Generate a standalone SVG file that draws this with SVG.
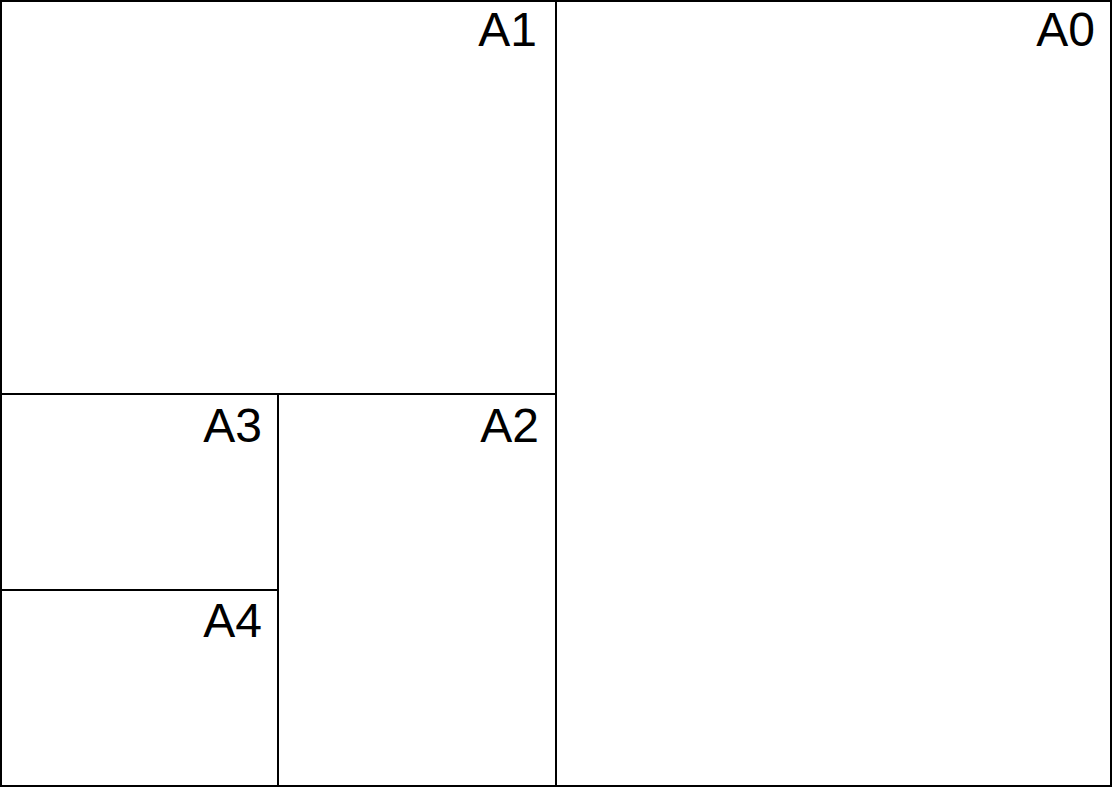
<svg xmlns="http://www.w3.org/2000/svg" width="1112" height="787" viewBox="0 0 1112 787">
<style>
.b{fill:#fff;stroke:#000;stroke-width:2}
.t{font-family:"Liberation Sans",Arial,sans-serif;font-size:48px;text-anchor:end;fill:#000}
</style>
<rect x="0" y="0" width="1112" height="787" fill="#fff"/>
<g id="A0"><rect class="b" x="556" y="1" width="555" height="785"/><text class="t" x="1095" y="46">A0</text></g>
<g id="A1"><rect class="b" x="1" y="1" width="555" height="393"/><text class="t" x="537" y="46">A1</text></g>
<g id="A2"><rect class="b" x="278" y="394" width="278" height="392"/><text class="t" x="539" y="442">A2</text></g>
<g id="A3"><rect class="b" x="1" y="394" width="277" height="196"/><text class="t" x="262" y="442">A3</text></g>
<g id="A4"><rect class="b" x="1" y="590" width="277" height="196"/><text class="t" x="262" y="637">A4</text></g>
<g id="connectors"></g>
</svg>
